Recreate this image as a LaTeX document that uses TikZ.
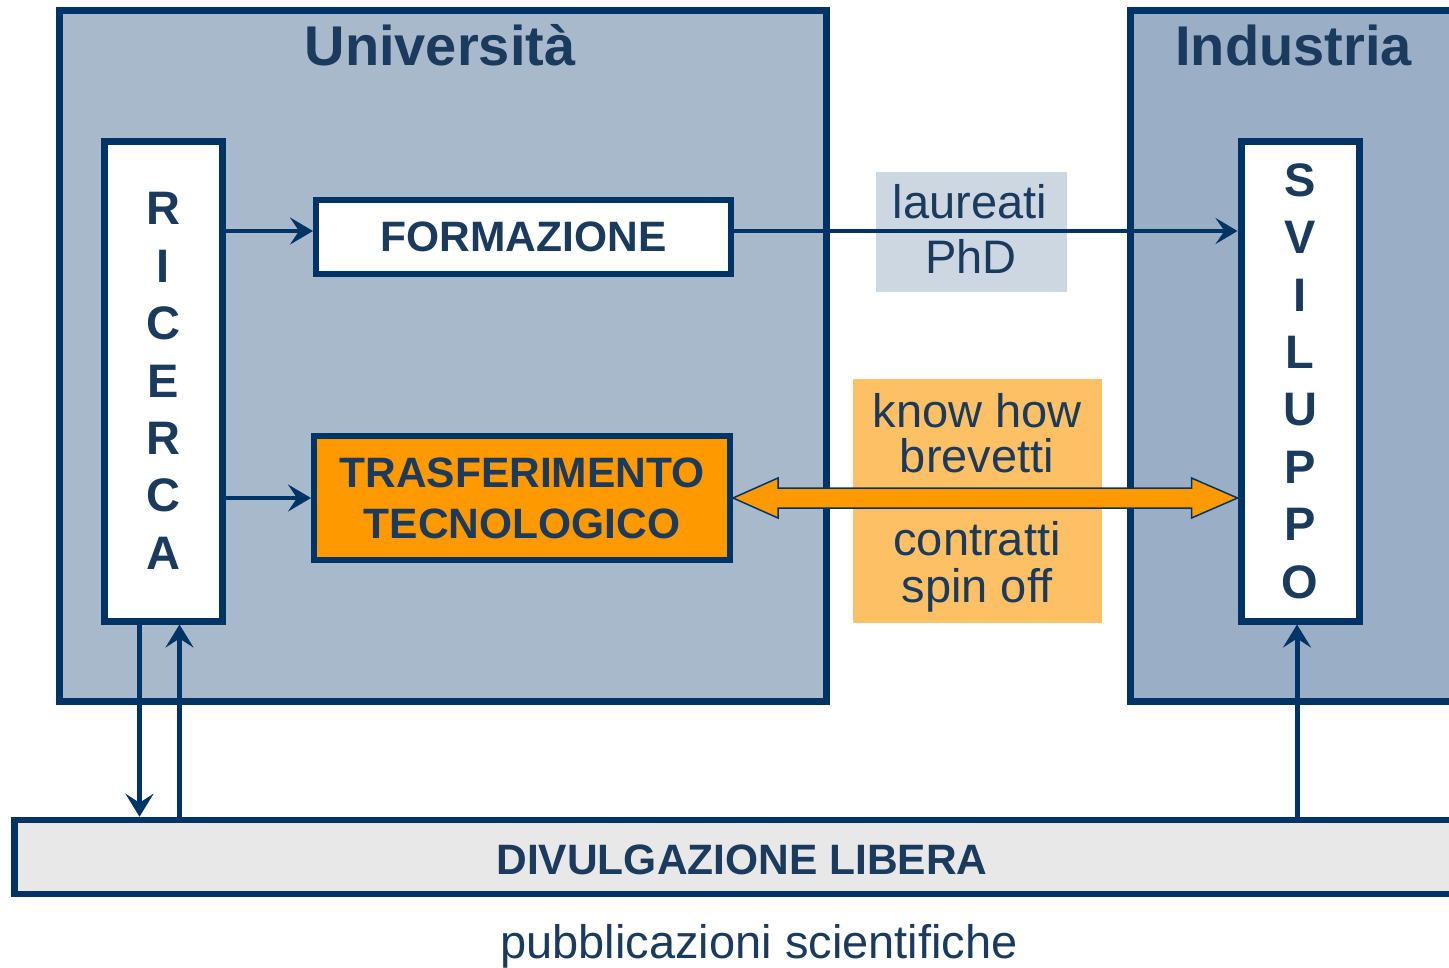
\documentclass[tikz,border=0pt]{standalone}
\usepackage{fontspec}
\setmainfont{Liberation Sans}
\usetikzlibrary{arrows.meta,calc}
\definecolor{navy}{HTML}{003366}
\definecolor{txtc}{HTML}{1A3A5E}
\definecolor{unifill}{HTML}{A9B9CC}
\definecolor{indfill}{HTML}{9AAEC5}
\definecolor{laufill}{HTML}{CDD7E1}
\definecolor{orlight}{HTML}{FDC064}
\definecolor{orstrong}{HTML}{FF9900}
\definecolor{grayfill}{HTML}{E8E8E8}
\begin{document}
\begin{tikzpicture}[x=1pt,y=-1pt,
  bigbox/.style={draw=navy, line width=7pt, inner sep=0pt},
  whitebox/.style={draw=navy, line width=7pt, fill=white, inner sep=0pt, minimum width=118pt, minimum height=480pt,
     text=txtc, align=center, font=\bfseries\fontsize{47}{57.4}\selectfont},
  labbox/.style={draw=navy, line width=6pt, inner sep=0pt, text=txtc, align=center,
     font=\bfseries\fontsize{42.5}{51}\selectfont},
  titletxt/.style={text=txtc, font=\bfseries\fontsize{56}{60}\selectfont, anchor=base, inner sep=0pt},
  regtxt/.style={text=txtc, font=\fontsize{47}{55}\selectfont, anchor=base, inner sep=0pt},
  boldtxt/.style={text=txtc, font=\bfseries\fontsize{42.5}{51}\selectfont, anchor=base, inner sep=0pt},
  arr/.style={draw=navy, line width=4pt, -{Stealth[length=23pt,width=27pt,inset=9pt]}},
  thinarr/.style={draw=navy, line width=3.5pt, -{Stealth[length=22pt,width=26pt,inset=9pt]}},
  vertarr/.style={draw=navy, line width=5pt, -{Stealth[length=23pt,width=28pt,inset=9pt]}},
  dblarr/.style={draw=navy, line width=1.5pt, fill=orstrong, line join=miter}
]
\useasboundingbox (0,0) rectangle (1449,967);
\clip (0,0) rectangle (1449,967);

% containers
\node[bigbox, fill=unifill, minimum width=767pt, minimum height=691pt] (uni) at (442.5,355.5) {};
\node[bigbox, fill=indfill, minimum width=600pt, minimum height=691pt] (ind) at (1430,355.5) {};
\node[titletxt] (unit) at (440,65) {Università};
\node[titletxt] (indt) at (1293.5,65) {Industria};

% side boxes
\node[whitebox] (ric) at (163,381) {R\\I\\C\\E\\R\\C\\A};
\node[whitebox] (svi) at (1300,381) {S\\V\\I\\L\\U\\P\\P\\O};

% inner boxes
\node[labbox, fill=white, minimum width=415pt, minimum height=74pt] (form) at (523.5,237) {FORMAZIONE};
\node[labbox, fill=orstrong, minimum width=416pt, minimum height=124pt] (tt) at (522,498) {TRASFERIMENTO\\TECNOLOGICO};

% label boxes in the gap
\node[fill=laufill, minimum width=191pt, minimum height=120pt, inner sep=0pt] (lau) at (971.5,232) {};
\node[regtxt] (l1) at (970,218) {laureati};
\node[regtxt] (l2) at (971,273) {PhD};

\node[fill=orlight, minimum width=249pt, minimum height=244pt, inner sep=0pt] (kh) at (977.5,501) {};
\node[regtxt] (k1) at (977,427) {know how};
\node[regtxt] (k2) at (977,472) {brevetti};
\node[regtxt] (k3) at (977,555) {contratti};
\node[regtxt] (k4) at (977,602) {spin off};

% bottom bar
\node[draw=navy, line width=6.5pt, fill=grayfill, minimum width=1700pt, minimum height=74pt, inner sep=0pt] (div) at (864.5,857) {};
\node[boldtxt] (divt) at (742,874) {DIVULGAZIONE LIBERA};
\node[regtxt] (pub) at (759,958) {pubblicazioni scientifiche};

% connectors
\coordinate (fw) at ([yshift=6pt]form.west);
\coordinate (fe) at ([yshift=6pt]form.east);
\draw[arr] (ric.east |- fw) -- (fw);
\draw[arr] (ric.east |- tt.west) -- (tt.west);
\draw[thinarr] (fe) -- (svi.west |- fe);

\draw[dblarr] (tt.east) -- ++(45,-20) -- ++(0,10)
  -- ($(svi.west |- tt.east)+(-46,-10)$) -- ++(0,-10)
  -- (svi.west |- tt.east) -- ++(-46,20) -- ++(0,-10)
  -- ($(tt.east)+(45,10)$) -- ++(0,10) -- cycle;

\draw[vertarr] ([xshift=-23.5pt]ric.south) -- ([xshift=-23.5pt]ric.south |- div.north);
\draw[vertarr] ([xshift=16.5pt]ric.south |- div.north) -- ([xshift=16.5pt]ric.south);
\draw[vertarr] ([xshift=-3pt]svi.south |- div.north) -- ([xshift=-3pt]svi.south);
\end{tikzpicture}
\end{document}
